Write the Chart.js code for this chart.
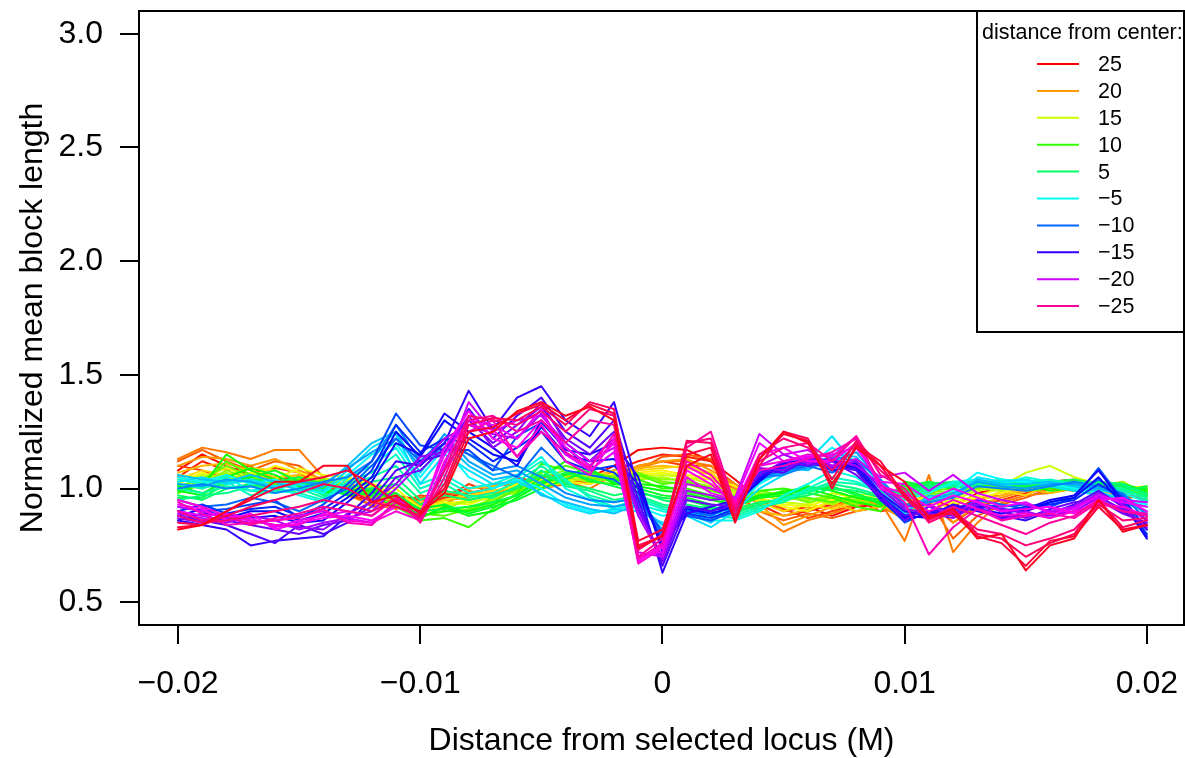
<!DOCTYPE html>
<html>
<head>
<meta charset="utf-8">
<title>Normalized mean block length</title>
<script src="https://cdn.jsdelivr.net/npm/chart.js@4.4.0/dist/chart.umd.min.js"></script>
<style>
  html, body { margin: 0; padding: 0; background: #fff; }
  #wrap { width: 1185px; height: 758px; }
</style>
</head>
<body>
<div id="wrap"><canvas id="chart" width="1185" height="758"></canvas></div>
<script>
// positions along the map (M)
const xValues = [
  -0.020, -0.019, -0.018, -0.017, -0.016, -0.015, -0.014, -0.013, -0.012, -0.011,
  -0.010, -0.009, -0.008, -0.007, -0.006, -0.005, -0.004, -0.003, -0.002, -0.001,
  0.000, 0.001, 0.002, 0.003, 0.004, 0.005, 0.006, 0.007, 0.008, 0.009,
  0.010, 0.011, 0.012, 0.013, 0.014, 0.015, 0.016, 0.017, 0.018, 0.019, 0.020
];

const xTickValues = [-0.02, -0.01, 0, 0.01, 0.02];
const xTickLabels = ['\u22120.02', '\u22120.01', '0', '0.01', '0.02'];
const yTickValues = [0.5, 1.0, 1.5, 2.0, 2.5, 3.0];
const yTickLabels = ['0.5', '1.0', '1.5', '2.0', '2.5', '3.0'];

const legendTitle = 'distance from center:';
const legendLabels = ['25', '20', '15', '10', '5', '\u22125', '\u221210', '\u221215', '\u221220', '\u221225'];

// normalized mean block length, one array per distance from center
const d25 = [1.08,1.15,1.10,1.06,1.04,1.05,0.99,1.00,0.98,0.97,
  0.95,0.97,1.00,1.02,1.03,1.04,1.03,1.05,1.10,1.17,
  1.18,1.17,1.12,1.04,0.95,0.90,0.92,0.88,0.92,0.93,
  0.90,0.95,0.92,0.98,1.00,1.02,1.03,1.04,1.00,0.98,0.95];
const d24 = [1.05,1.12,1.08,1.10,1.02,1.00,1.02,0.97,0.95,0.93,
  0.92,0.96,0.98,1.00,1.05,1.02,1.04,1.02,1.08,1.12,
  1.15,1.14,1.12,1.00,0.93,0.88,0.90,0.93,0.95,0.90,
  0.92,0.98,0.90,0.96,0.97,1.00,1.02,1.03,0.98,0.96,0.97];
const d23 = [1.10,1.08,1.04,1.06,1.09,1.07,1.01,0.99,0.92,0.93,
  0.97,0.96,1.02,0.98,1.00,1.05,1.06,1.03,1.06,1.10,
  1.12,1.10,1.10,1.02,0.96,0.91,0.87,0.90,0.93,0.95,
  0.88,0.94,0.85,0.92,0.95,0.98,1.00,0.99,1.02,0.99,1.00];
const d22 = [1.12,1.17,1.12,1.08,1.12,1.10,1.03,0.98,0.96,0.94,
  0.96,0.98,0.97,1.01,1.02,1.00,1.02,1.04,1.04,1.08,
  1.14,1.15,1.13,0.98,0.90,0.86,0.89,0.87,0.90,0.92,
  0.87,0.95,0.78,0.88,0.93,0.96,1.00,1.01,0.97,0.95,0.98];
const d21 = [1.13,1.18,1.16,1.13,1.17,1.17,1.05,0.97,0.93,0.91,
  0.95,0.93,0.99,0.97,1.02,1.01,1.03,1.00,1.06,1.09,
  1.12,1.12,1.10,1.00,0.88,0.81,0.86,0.89,0.93,0.94,
  0.77,1.06,0.72,0.85,0.94,0.97,0.98,1.00,0.99,1.00,0.96];
const d20 = [1.10,1.14,1.13,1.10,1.13,1.08,1.04,1.02,0.94,0.95,
  0.93,0.95,0.96,0.99,1.00,1.03,1.05,1.06,1.05,1.10,
  1.12,1.13,1.08,1.02,0.93,0.84,0.88,0.92,0.95,0.93,
  0.86,0.98,0.85,0.93,0.96,0.99,1.01,1.02,0.99,0.97,0.99];
const d19 = [1.07,1.10,1.11,1.08,1.05,1.06,1.00,1.03,0.97,0.96,
  0.94,0.92,1.00,1.01,1.03,1.02,1.04,1.05,1.08,1.09,
  1.10,1.09,1.06,0.96,0.90,0.88,0.91,0.94,0.90,0.92,
  0.90,0.93,0.88,0.95,0.97,1.00,0.98,1.00,1.01,0.98,1.00];
const d18 = [1.04,1.08,1.06,1.09,1.08,1.04,1.05,1.00,0.99,0.98,
  0.90,0.95,0.97,0.99,1.01,1.03,1.02,1.07,1.06,1.08,
  1.09,1.10,1.07,0.98,0.94,0.90,0.93,0.91,0.94,0.96,
  0.92,0.95,0.91,0.94,0.99,0.97,1.02,1.01,1.00,0.99,0.97];
const d17 = [1.06,1.05,1.09,1.05,1.10,1.07,1.03,1.04,1.01,0.97,
  0.92,0.93,0.95,0.98,1.02,1.04,1.03,1.02,1.07,1.07,
  1.08,1.06,1.05,1.01,0.95,0.92,0.90,0.95,0.97,0.94,
  0.93,0.97,0.93,0.96,0.98,1.01,1.03,1.02,0.98,1.00,1.01];
const d16 = [1.02,1.07,1.04,1.07,1.04,1.09,1.06,1.05,1.02,1.00,
  0.91,0.94,0.93,0.97,0.99,1.01,1.04,1.06,1.05,1.06,
  1.07,1.05,1.04,0.99,0.96,0.93,0.92,0.96,0.95,0.97,
  0.95,0.96,0.94,0.97,1.00,1.02,1.00,1.03,1.02,1.01,1.00];
const d15 = [1.03,1.06,1.05,1.03,1.02,1.05,1.03,1.04,1.01,0.98,
  0.89,0.93,0.94,0.96,1.00,1.00,1.03,1.05,1.04,1.05,
  1.06,1.05,1.02,0.98,0.95,0.94,0.93,0.98,0.96,0.97,
  0.96,0.98,0.95,0.99,1.01,1.07,1.10,1.05,1.02,1.00,0.99];
const d14 = [1.00,1.03,1.07,1.02,1.04,1.02,1.05,1.01,1.00,0.96,
  0.90,0.91,0.95,0.97,0.98,1.02,1.05,1.03,1.06,1.04,
  1.05,1.03,1.01,0.99,0.97,0.95,0.96,0.93,0.97,0.98,
  0.98,0.97,0.96,1.00,0.99,1.02,1.02,1.01,1.03,1.02,0.98];
const d13 = [1.04,1.02,1.08,1.04,1.01,1.03,1.02,0.99,0.97,0.95,
  0.88,0.90,0.92,0.95,0.99,1.03,1.06,1.05,1.03,1.06,
  1.04,1.04,1.00,0.97,0.98,0.96,0.95,0.97,0.93,0.96,
  0.97,0.99,0.98,1.01,1.02,1.00,1.03,1.02,1.01,1.03,0.97];
const d12 = [1.01,1.04,1.10,1.05,1.03,1.00,1.04,1.00,0.99,0.94,
  0.87,0.92,0.90,0.96,1.01,1.05,1.08,1.04,1.04,1.07,
  1.03,1.02,0.99,0.96,0.99,0.97,0.94,0.96,0.95,0.92,
  0.99,0.98,0.97,1.00,1.03,1.01,1.01,1.00,1.02,1.01,0.96];
const d11 = [0.98,1.02,1.12,1.06,1.02,1.04,1.02,1.01,0.96,0.93,
  0.89,0.88,0.91,0.94,1.00,1.07,1.10,1.07,1.05,1.06,
  1.02,1.03,1.00,0.95,0.97,0.98,0.96,0.94,0.97,0.94,
  1.00,0.99,1.00,1.02,1.00,1.03,1.02,1.01,1.00,1.02,0.95];
const d10 = [1.02,1.00,1.06,1.02,1.00,0.98,1.01,1.00,0.97,0.92,
  0.86,0.87,0.83,0.91,0.98,1.11,1.08,1.03,1.02,1.04,
  1.00,1.00,0.97,0.95,0.99,1.00,0.98,0.96,0.92,0.90,
  1.00,1.01,1.02,1.01,1.03,0.99,1.00,1.02,1.03,0.99,0.97];
const d9 = [1.00,1.01,1.15,1.08,1.04,1.00,0.99,0.98,0.99,0.95,
  0.88,0.90,0.90,0.93,0.97,1.05,1.12,1.06,1.04,1.02,
  1.01,0.99,0.96,0.94,0.96,0.99,1.00,0.97,0.94,0.92,
  1.01,1.02,1.00,1.03,1.02,1.02,0.99,1.00,1.02,1.01,0.98];
const d8 = [0.99,0.97,1.05,1.09,1.06,1.01,0.98,0.99,1.00,0.96,
  0.87,0.92,0.88,0.90,0.96,1.02,1.06,1.09,1.02,1.01,
  0.99,0.98,0.95,0.93,0.97,0.98,1.01,0.99,0.96,0.94,
  1.02,1.00,1.03,1.02,1.04,1.01,1.01,0.99,1.00,1.02,0.99];
const d7 = [1.01,0.98,1.03,1.05,1.08,1.03,1.00,0.97,0.98,0.97,
  0.91,0.93,0.89,0.92,0.95,1.00,1.04,1.08,1.03,1.00,
  0.97,0.96,0.93,0.92,0.96,0.97,1.00,1.00,0.98,0.93,
  1.03,1.01,1.02,1.04,1.01,1.00,1.03,1.01,0.99,1.00,1.00];
const d6 = [0.96,0.96,1.02,1.04,1.03,1.05,1.02,0.99,0.97,0.98,
  0.90,0.91,0.92,0.94,0.97,1.03,1.07,1.04,1.01,0.98,
  0.96,0.95,0.92,0.90,0.93,0.96,0.99,1.01,0.97,0.95,
  1.01,1.03,1.01,1.03,1.02,1.01,1.02,1.03,1.01,0.99,1.01];
const d5 = [0.97,0.95,1.00,1.02,1.01,1.03,1.00,0.98,1.00,1.02,
  0.93,0.97,0.95,0.97,1.00,1.06,1.02,1.00,0.97,0.99,
  0.95,0.93,0.91,0.91,0.94,0.95,0.97,1.00,0.99,0.96,
  0.99,1.02,1.03,1.02,1.03,1.02,1.03,1.04,1.02,1.01,0.98];
const d4 = [0.95,0.97,0.98,1.01,1.00,1.02,0.97,1.00,1.03,1.05,
  0.95,0.99,0.97,0.96,1.01,1.08,1.01,0.99,0.95,0.97,
  0.93,0.91,0.92,0.89,0.93,0.96,0.98,1.02,1.00,0.97,
  0.98,1.01,1.02,1.01,1.04,1.03,1.01,1.02,1.03,1.02,0.97];
const d3 = [1.00,0.98,1.01,0.99,0.98,1.00,0.96,1.02,1.05,1.10,
  0.98,1.02,0.96,0.98,1.03,1.10,1.03,0.97,0.94,0.96,
  0.92,0.90,0.90,0.88,0.92,0.94,0.99,1.03,1.02,0.99,
  0.97,1.00,1.01,1.02,1.02,1.04,1.02,1.03,1.01,1.00,0.96];
const d2 = [1.02,1.00,1.03,0.97,0.99,0.98,0.95,1.03,1.07,1.15,
  1.00,1.04,0.98,1.00,1.05,1.12,1.04,0.96,0.92,0.95,
  0.91,0.89,0.88,0.87,0.91,0.95,1.00,1.05,1.03,0.98,
  0.96,0.99,1.02,1.03,1.01,1.03,1.04,1.02,1.00,0.99,0.95];
const d1 = [1.04,1.02,1.05,0.99,1.01,0.97,0.94,1.05,1.10,1.18,
  1.02,1.06,1.00,1.02,1.06,1.14,1.00,0.95,0.91,0.93,
  0.90,0.88,0.86,0.86,0.90,0.97,1.02,1.08,1.05,0.97,
  0.95,0.98,1.03,1.04,1.02,1.05,1.03,1.01,0.99,0.98,0.94];
const dm1 = [1.05,1.03,1.06,1.02,1.04,1.00,0.98,1.06,1.15,1.20,
  1.05,1.18,1.05,1.00,1.04,1.00,0.93,0.90,0.90,0.92,
  0.88,0.90,0.86,0.92,1.02,1.08,1.10,1.18,1.12,1.00,
  0.90,0.96,0.99,1.07,1.04,1.03,1.02,1.00,0.98,0.96,0.93];
const dm2 = [1.03,1.05,1.02,1.04,1.01,1.02,0.99,1.08,1.18,1.24,
  1.02,1.15,1.08,1.02,1.03,0.98,0.92,0.89,0.91,0.90,
  0.85,0.88,0.83,0.90,1.00,1.06,1.12,1.23,1.10,0.98,
  0.88,0.94,0.97,1.05,1.03,1.04,1.01,0.99,0.97,0.95,0.92];
const dm3 = [1.06,1.04,1.03,1.06,1.03,0.99,1.01,1.10,1.20,1.25,
  1.07,1.20,1.10,1.04,1.06,0.97,0.94,0.91,0.89,0.93,
  0.84,0.89,0.85,0.93,1.03,1.09,1.08,1.15,1.14,1.02,
  0.89,0.97,0.96,1.04,1.02,1.02,1.03,1.01,0.99,0.94,0.90];
const dm4 = [1.02,1.01,1.04,1.03,1.00,1.03,1.02,1.09,1.16,1.22,
  1.10,1.24,1.12,1.06,1.08,1.02,0.96,0.93,0.92,0.94,
  0.82,0.91,0.88,0.94,1.04,1.07,1.09,1.12,1.16,1.03,
  0.92,0.95,0.98,1.03,1.01,1.00,1.02,1.02,1.00,0.97,0.89];
const dm5 = [1.00,1.02,1.00,1.01,0.98,1.00,1.03,1.05,1.12,1.28,
  1.12,1.22,1.15,1.08,1.10,1.05,0.98,0.95,0.94,0.96,
  0.80,0.92,0.90,0.95,1.05,1.06,1.10,1.14,1.12,1.04,
  0.93,0.94,0.96,1.01,1.00,0.99,1.01,1.03,1.01,0.98,0.88];
const dm6 = [0.95,0.92,0.93,0.96,0.94,0.90,0.95,1.00,1.10,1.22,
  1.12,1.20,1.15,1.10,1.05,1.18,1.08,1.06,1.04,0.96,
  0.78,0.90,0.88,0.93,1.05,1.08,1.10,1.07,1.12,0.98,
  0.88,0.92,0.90,0.95,0.93,0.91,0.94,0.97,1.04,0.97,0.86];
const dm7 = [0.92,0.90,0.91,0.93,0.95,0.87,0.93,1.02,1.12,1.33,
  1.19,1.17,1.17,1.08,1.23,1.29,1.18,1.10,1.07,0.98,
  0.80,0.88,0.86,0.90,1.07,1.10,1.12,1.09,1.10,0.96,
  0.85,0.90,0.88,0.93,0.92,0.93,0.92,0.96,1.09,0.95,0.80];
const dm8 = [0.90,0.93,0.89,0.91,0.92,0.88,0.91,0.98,1.08,1.28,
  1.16,1.22,1.20,1.12,1.18,1.25,1.12,1.08,1.10,1.00,
  0.76,0.89,0.87,0.91,1.06,1.09,1.11,1.13,1.08,0.95,
  0.86,0.89,0.91,0.94,0.90,0.92,0.93,0.95,1.02,0.96,0.82];
const dm9 = [0.88,0.91,0.87,0.90,0.90,0.86,0.89,0.96,1.05,1.25,
  1.14,1.30,1.22,1.15,1.12,1.27,1.15,1.12,1.13,1.02,
  0.74,0.91,0.89,0.92,1.04,1.11,1.13,1.10,1.11,0.97,
  0.87,0.88,0.89,0.92,0.91,0.90,0.94,0.96,1.05,0.93,0.79];
const dm10 = [0.86,0.89,0.88,0.87,0.88,0.85,0.86,0.94,1.03,1.20,
  1.15,1.33,1.25,1.18,1.10,1.30,1.17,1.15,1.20,1.05,
  0.72,0.92,0.90,0.94,1.03,1.12,1.14,1.12,1.09,0.96,
  0.88,0.87,0.92,0.91,0.89,0.91,0.95,0.97,1.08,0.94,0.78];
const dm11 = [0.86,0.84,0.82,0.75,0.77,0.78,0.79,0.88,0.98,1.12,
  1.10,1.20,1.43,1.26,1.40,1.45,1.30,1.23,1.38,1.00,
  0.63,0.89,0.92,0.95,1.05,1.10,1.12,1.08,1.10,0.98,
  0.90,0.88,0.93,0.90,0.88,0.86,0.90,0.92,0.97,0.90,0.84];
const dm12 = [0.88,0.86,0.84,0.80,0.76,0.84,0.80,0.85,0.95,1.08,
  1.12,1.15,1.35,1.22,1.32,1.40,1.25,1.18,1.30,0.95,
  0.66,0.92,0.90,0.93,1.08,1.07,1.13,1.10,1.08,0.95,
  0.88,0.90,0.91,0.92,0.87,0.88,0.89,0.93,0.99,0.92,0.82];
const dm13 = [0.90,0.88,0.86,0.84,0.82,0.80,0.84,0.86,0.92,1.05,
  1.08,1.18,1.30,1.20,1.28,1.36,1.22,1.15,1.25,0.92,
  0.68,0.95,0.93,0.92,1.06,1.12,1.10,1.12,1.06,0.97,
  0.86,0.92,0.89,0.94,0.90,0.87,0.91,0.94,0.95,0.89,0.85];
const dm14 = [0.87,0.85,0.88,0.86,0.84,0.83,0.82,0.89,0.94,1.02,
  1.14,1.16,1.32,1.18,1.25,1.38,1.20,1.12,1.22,0.90,
  0.70,0.97,0.95,0.96,1.09,1.08,1.14,1.09,1.12,1.00,
  0.91,0.89,0.87,0.93,0.91,0.89,0.88,0.90,0.96,0.91,0.83];
const dm15 = [0.89,0.87,0.85,0.88,0.86,0.82,0.85,0.87,0.90,1.00,
  1.11,1.22,1.28,1.24,1.22,1.33,1.18,1.10,1.20,0.88,
  0.69,0.99,0.97,0.94,1.10,1.15,1.11,1.13,1.10,1.02,
  0.92,0.93,0.88,0.95,0.86,0.90,0.87,0.92,0.98,0.93,0.86];
const dm16 = [0.92,0.90,0.87,0.85,0.86,0.88,0.90,0.87,0.85,0.94,
  0.87,1.10,1.38,1.25,1.30,1.32,1.20,1.12,1.18,0.72,
  0.70,1.02,1.00,0.96,1.24,1.15,1.17,1.10,1.13,1.05,
  1.07,0.99,1.06,0.98,0.95,0.93,0.90,0.92,0.96,0.95,0.94];
const dm17 = [0.90,0.88,0.89,0.87,0.83,0.86,0.88,0.90,0.88,0.96,
  0.89,1.15,1.30,1.28,1.22,1.35,1.15,1.08,1.16,0.70,
  0.72,1.05,0.98,0.95,1.20,1.12,1.14,1.15,1.18,1.03,
  1.02,0.95,1.00,0.96,0.92,0.94,0.89,0.91,0.97,0.94,0.92];
const dm18 = [0.93,0.91,0.86,0.89,0.82,0.85,0.87,0.88,0.86,0.92,
  0.88,1.18,1.34,1.22,1.18,1.30,1.18,1.10,1.20,0.68,
  0.75,1.08,1.02,0.93,1.15,1.18,1.12,1.12,1.20,1.01,
  0.98,0.92,0.97,0.94,0.90,0.91,0.92,0.89,0.95,0.96,0.90];
const dm19 = [0.95,0.92,0.88,0.86,0.84,0.84,0.89,0.86,0.85,0.90,
  0.86,1.12,1.28,1.26,1.14,1.28,1.12,1.06,1.22,0.67,
  0.74,1.10,1.04,0.92,1.10,1.12,1.15,1.14,1.23,1.00,
  0.96,0.90,0.95,0.91,0.88,0.89,0.87,0.90,0.93,0.92,0.88];
const dm20 = [0.94,0.89,0.84,0.85,0.86,0.87,0.91,0.85,0.84,0.94,
  0.86,1.08,1.25,1.30,1.14,1.25,1.16,1.09,1.24,0.69,
  0.76,1.12,1.06,0.94,1.08,1.10,1.13,1.16,1.22,1.02,
  0.94,0.71,0.83,0.91,0.86,0.88,0.89,0.87,0.94,0.90,0.89];
const dm21 = [0.90,0.86,0.88,0.84,0.87,0.89,0.92,0.90,0.88,0.96,
  0.85,1.05,1.30,1.32,1.25,1.30,1.20,1.30,1.28,0.70,
  0.78,1.18,1.25,0.92,1.12,1.18,1.20,1.12,1.23,1.06,
  1.00,0.87,0.92,0.88,0.84,0.80,0.85,0.88,0.95,0.90,0.88];
const dm22 = [0.88,0.85,0.86,0.88,0.90,0.92,0.95,0.93,0.90,0.95,
  0.87,1.08,1.32,1.30,1.28,1.34,1.25,1.35,1.32,0.73,
  0.80,1.20,1.22,0.90,1.15,1.22,1.18,1.08,1.20,1.08,
  0.98,0.85,0.90,0.82,0.80,0.75,0.78,0.82,0.93,0.86,0.87];
const dm23 = [0.85,0.84,0.88,0.92,0.95,0.98,1.02,1.00,0.94,0.92,
  0.88,1.02,1.28,1.31,1.30,1.36,1.28,1.38,1.35,0.75,
  0.79,1.21,1.20,0.88,1.10,1.25,1.22,1.04,1.21,1.10,
  0.96,0.86,0.91,0.80,0.78,0.70,0.76,0.80,0.95,0.83,0.86];
const dm24 = [0.83,0.84,0.90,0.95,1.00,1.03,1.05,1.08,1.02,0.94,
  0.90,1.00,1.25,1.27,1.33,1.37,1.30,1.37,1.33,0.77,
  0.82,1.15,1.18,0.86,1.13,1.24,1.21,1.00,1.19,1.12,
  0.97,0.88,0.89,0.79,0.76,0.66,0.77,0.79,0.92,0.82,0.84];
const dm25 = [0.82,0.84,0.90,0.96,1.03,1.03,1.10,1.10,0.94,0.97,
  0.89,0.98,1.22,1.25,1.34,1.38,1.32,1.36,1.30,0.74,
  0.79,1.10,1.15,0.85,1.13,1.25,1.20,1.02,1.18,1.10,
  1.03,0.87,0.91,0.78,0.80,0.64,0.75,0.78,0.95,0.81,0.84];

const seriesNames = [25, 24, 23, 22, 21, 20, 19, 18, 17, 16, 15, 14, 13, 12, 11, 10, 9, 8, 7, 6, 5, 4, 3, 2, 1,
  -1, -2, -3, -4, -5, -6, -7, -8, -9, -10, -11, -12, -13, -14, -15, -16, -17, -18, -19, -20, -21, -22, -23, -24, -25];
const seriesList = [d25, d24, d23, d22, d21, d20, d19, d18, d17, d16, d15, d14, d13, d12, d11, d10, d9, d8, d7, d6, d5, d4, d3, d2, d1,
  dm1, dm2, dm3, dm4, dm5, dm6, dm7, dm8, dm9, dm10, dm11, dm12, dm13, dm14, dm15, dm16, dm17, dm18, dm19, dm20, dm21, dm22, dm23, dm24, dm25];

const FONT = '"Liberation Sans", Arial, Helvetica, sans-serif';

// rainbow palette, like R's rainbow(n)
function rainbow(k, n) {
  return `hsl(${(k * 360 / n).toFixed(2)}, 100%, 50%)`;
}

const datasets = seriesList.map((vals, k) => ({
  label: String(seriesNames[k]),
  data: xValues.map((x, i) => ({ x: x, y: vals[i] })),
  borderColor: rainbow(k, seriesList.length),
  borderWidth: 2,
  pointRadius: 0,
  tension: 0,
  fill: false,
  borderJoinStyle: 'round',
  borderCapStyle: 'round',
  order: seriesList.length - 1 - k   // later series drawn on top, as in R
}));

const frameAndLegend = {
  id: 'frameAndLegend',
  afterDraw(chart) {
    const { ctx, chartArea: a } = chart;
    ctx.save();

    // legend box, tucked into the top right corner of the plot
    const lx = a.right - 207;
    const ly = a.top;
    ctx.fillStyle = '#fff';
    ctx.fillRect(lx, ly, 210, 321);
    ctx.strokeStyle = '#000';
    ctx.lineWidth = 2;
    ctx.strokeRect(lx, ly, 210, 321);

    ctx.font = `21.5px ${FONT}`;
    ctx.fillStyle = '#000';
    ctx.textAlign = 'left';
    ctx.textBaseline = 'alphabetic';
    ctx.fillText(legendTitle, lx + 5, ly + 28);

    legendLabels.forEach((lab, j) => {
      const y = ly + 53 + j * 26.9;
      ctx.strokeStyle = rainbow(j, legendLabels.length);
      ctx.lineWidth = 2;
      ctx.beginPath();
      ctx.moveTo(lx + 60, y);
      ctx.lineTo(lx + 102, y);
      ctx.stroke();
      ctx.fillStyle = '#000';
      ctx.textBaseline = 'middle';
      ctx.fillText(lab, lx + 121, y + 1);
    });

    // box around the plot region
    ctx.strokeStyle = '#000';
    ctx.lineWidth = 2;
    ctx.strokeRect(a.left, a.top, a.right - a.left, a.bottom - a.top);
    ctx.restore();
  }
};

new Chart(document.getElementById('chart'), {
  type: 'line',
  data: { datasets: datasets },
  plugins: [frameAndLegend],
  options: {
    responsive: false,
    animation: false,
    events: [],
    layout: { padding: { top: 11, right: 1, bottom: 0, left: 0 } },
    plugins: {
      legend: { display: false },
      tooltip: { enabled: false }
    },
    scales: {
      x: {
        type: 'linear',
        min: -0.02161,
        max: 0.02153,
        afterBuildTicks: axis => { axis.ticks = xTickValues.map(v => ({ value: v })); },
        afterFit: axis => {
          axis.height = 133;
          axis.paddingLeft = 0;
          axis.paddingRight = 0;
        },
        ticks: {
          callback: (v, i) => xTickLabels[i],
          autoSkip: false,
          maxRotation: 0,
          padding: 24,
          color: '#000',
          font: { family: FONT, size: 32, lineHeight: 1 }
        },
        grid: { drawOnChartArea: false, drawTicks: true, tickLength: 19, color: '#000', lineWidth: 2 },
        border: { display: false },
        title: {
          display: true,
          text: 'Distance from selected locus (M)',
          color: '#000',
          font: { family: FONT, size: 32, lineHeight: 1 },
          padding: { top: 0, bottom: 1 }
        }
      },
      y: {
        type: 'linear',
        min: 0.4,
        max: 3.1,
        afterBuildTicks: axis => { axis.ticks = yTickValues.map(v => ({ value: v })); },
        afterFit: axis => {
          axis.width = 139;
          axis.paddingTop = 0;
          axis.paddingBottom = 0;
        },
        ticks: {
          callback: (v, i) => yTickLabels[i],
          padding: 17,
          color: '#000',
          font: { family: FONT, size: 32, lineHeight: 1 }
        },
        grid: { drawOnChartArea: false, drawTicks: true, tickLength: 19, color: '#000', lineWidth: 2 },
        border: { display: false },
        title: {
          display: true,
          text: 'Normalized mean block length',
          color: '#000',
          font: { family: FONT, size: 32, lineHeight: 1 },
          padding: { top: 17, bottom: 0 }
        }
      }
    }
  }
});
</script>
</body>
</html>
